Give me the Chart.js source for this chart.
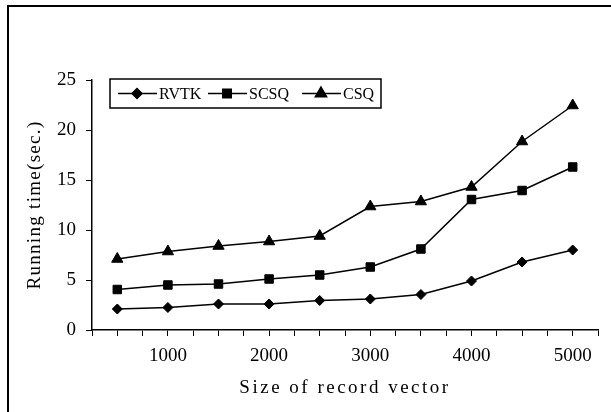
<!DOCTYPE html>
<html>
<head>
<meta charset="utf-8">
<script src="https://cdn.jsdelivr.net/npm/chart.js@4"></script>
<style>
  html, body { margin: 0; padding: 0; background: #fff; }
  #wrap { width: 611px; height: 412px; }
</style>
</head>
<body>
<div id="wrap"><canvas id="myChart" width="611" height="412"></canvas></div>
<script>
const sizes = [500, 1000, 1500, 2000, 2500, 3000, 3500, 4000, 4500, 5000];
const rvtk = [2.1, 2.25, 2.6, 2.6, 2.95, 3.1, 3.55, 4.9, 6.8, 8.0];
const scsq = [4.05, 4.5, 4.6, 5.1, 5.5, 6.3, 8.1, 13.05, 13.95, 16.3];
const csq  = [7.1, 7.85, 8.4, 8.85, 9.4, 12.35, 12.85, 14.3, 18.85, 22.45];
const seriesNames = ['RVTK', 'SCSQ', 'CSQ'];
const markers = ['rectRot', 'rect', 'triangle'];
const markerSize = [5, 6, 6.5];

const FONT = 'Liberation Serif';

const toPoints = (vals) => sizes.map((s, i) => ({x: s, y: vals[i]}));

// outer frame + white background, and wider spacing for the axis titles
const framePlugin = {
  id: 'frame',
  afterUpdate(chart) {
    const spacing = {x: '2.5px', y: '1.3px'};
    Object.keys(spacing).forEach((k) => {
      const s = chart.scales[k];
      if (!s || s._spaced) return;
      const orig = s.drawTitle;
      s.drawTitle = function () {
        this.ctx.save();
        this.ctx.letterSpacing = spacing[k];
        orig.call(this);
        this.ctx.restore();
      };
      s._spaced = true;
    });
  },
  beforeDraw(chart) {
    const c = chart.ctx;
    c.save();
    c.fillStyle = '#fff';
    c.fillRect(0, 0, chart.width, chart.height);
    c.strokeStyle = '#000';
    c.lineWidth = 2;
    c.beginPath();
    c.moveTo(8, chart.height);
    c.lineTo(8, 6);
    c.lineTo(chart.width, 6);
    c.stroke();
    c.restore();
  }
};

// boxed legend with line-marker-line samples
const legendBox = {
  id: 'legendBox',
  afterDraw(chart) {
    const c = chart.ctx;
    const a = chart.chartArea;
    const x0 = a.left + 18, y0 = a.top - 1;
    const cy = y0 + 14.5;
    c.save();
    c.strokeStyle = '#000';
    c.lineWidth = 1.5;
    c.strokeRect(x0, y0, 271, 29);
    const starts = [8, 98, 192];
    c.font = '16px "' + FONT + '"';
    c.textBaseline = 'middle';
    c.fillStyle = '#000';
    chart.data.datasets.forEach((ds, i) => {
      const lx = x0 + starts[i];
      c.lineWidth = 1.5;
      c.beginPath();
      c.moveTo(lx, cy);
      c.lineTo(lx + 39, cy);
      c.stroke();
      Chart.helpers.drawPoint(c, {pointStyle: markers[i], radius: markerSize[i], rotation: 0, borderWidth: 1}, lx + 19, cy);
      c.fillText(ds.label, lx + 41, cy + 1);
    });
    c.restore();
  }
};

const ctx = document.getElementById('myChart');

new Chart(ctx, {
  type: 'line',
  data: {
    datasets: [rvtk, scsq, csq].map((vals, i) => ({
      label: seriesNames[i],
      data: toPoints(vals),
      borderColor: '#000',
      backgroundColor: '#000',
      borderWidth: 1.5,
      pointStyle: markers[i],
      pointRadius: markerSize[i],
      pointBorderWidth: 1,
      pointBackgroundColor: '#000',
      pointBorderColor: '#000',
      tension: 0
    }))
  },
  options: {
    responsive: false,
    animation: false,
    layout: { padding: { left: 8, top: 80, right: 13, bottom: 0 } },
    plugins: {
      legend: { display: false },
      tooltip: { enabled: false }
    },
    scales: {
      x: {
        type: 'linear',
        min: 250,
        max: 5250,
        afterFit: (s) => { s.height = 82; },
        ticks: {
          stepSize: 250,
          autoSkip: false,
          maxRotation: 0,
          color: '#000',
          padding: 9,
          font: { family: FONT, size: 19 },
          callback: (v) => (v % 1000 === 0 ? String(v) : '')
        },
        grid: { drawOnChartArea: false, tickLength: 6, tickColor: '#000', tickWidth: 1 },
        border: { color: '#000', width: 1.5 },
        title: {
          display: true,
          text: 'Size of record vector',
          color: '#000',
          font: { family: FONT, size: 19 },
          padding: { top: 4, bottom: 13 }
        }
      },
      y: {
        min: 0,
        max: 25,
        afterFit: (s) => { s.width = 84; },
        ticks: {
          stepSize: 2.5,
          color: '#000',
          padding: 10,
          font: { family: FONT, size: 19 },
          callback: (v) => (v % 5 === 0 ? String(v) : '')
        },
        grid: { drawOnChartArea: false, tickLength: 6, tickColor: '#000', tickWidth: 1 },
        border: { color: '#000', width: 1.5 },
        title: {
          display: true,
          text: 'Running time(sec.)',
          color: '#000',
          font: { family: FONT, size: 19 },
          padding: { top: 16, bottom: 4 }
        }
      }
    }
  },
  plugins: [framePlugin, legendBox]
});
</script>
</body>
</html>
